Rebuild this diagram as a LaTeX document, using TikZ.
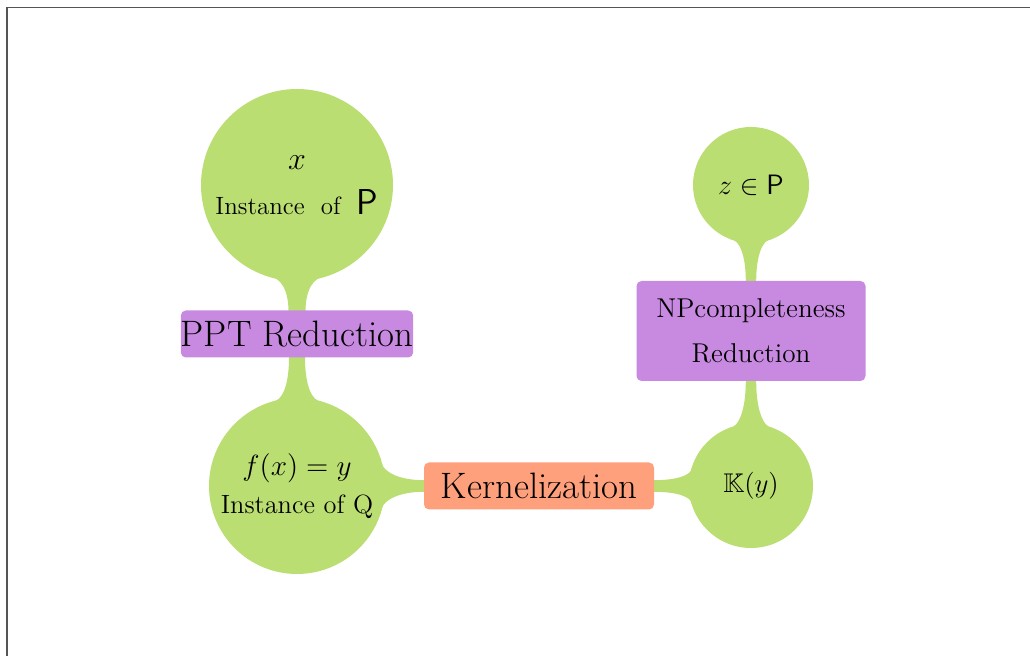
\RequirePackage{fix-cm}
\documentclass[tikz,border=0pt]{standalone}
\usepackage{amssymb}
\usepackage{fontspec}
\usetikzlibrary{calc,backgrounds}

\definecolor{leafgreen}{RGB}{187,222,114}
\definecolor{redpurple}{RGB}{200,138,225}
\definecolor{salmon}{RGB}{255,160,125}
\definecolor{framegray}{RGB}{85,85,85}

\tikzset{
  leaf/.style={fill=leafgreen},
  bud/.style={circle, leaf, inner sep=0pt, align=center, text=black},
  tagbox/.style={rectangle, rounded corners=2.5pt, inner sep=0pt, align=center, text=black},
}

% Tapered stem from a circle node to a box: #1 circle, #2 radius, #3 direction,
% #4 target node, #5 half width at the box, #6 flare angle, #7 gap circle-to-box
\newcommand\budlink[7]{%
  \fill[leaf] (#1.center)
    -- ($(#1.center)+(#3+#6:#2)$)
    .. controls ($(#1.center)+(#3:{#2*cos(#6)})+(#3+90:{#5+0.4*(#2*sin(#6)-#5)})$)
            and ($(#1.center)+(#3:{#2+#7-0.6*(#2+#7-#2*cos(#6))})+(#3+90:#5)$)
    .. ($(#1.center)+(#3:#2+#7)+(#3+90:#5)$)
    -- ($(#4.center)+(#3+90:#5)$)
    -- ($(#4.center)+(#3-90:#5)$)
    -- ($(#1.center)+(#3:#2+#7)+(#3-90:#5)$)
    .. controls ($(#1.center)+(#3:{#2+#7-0.6*(#2+#7-#2*cos(#6))})+(#3-90:#5)$)
            and ($(#1.center)+(#3:{#2*cos(#6)})+(#3-90:{#5+0.4*(#2*sin(#6)-#5)})$)
    .. ($(#1.center)+(#3-#6:#2)$)
    -- cycle;}

\begin{document}
\begin{tikzpicture}[x=0.5pt,y=-0.5pt]
\useasboundingbox (0,0) rectangle (1030,656);
\draw[framegray, line width=0.75pt] (7,656) -- (7,7.5) -- (1030,7.5);

% circles
\node[bud, minimum size=96pt] (inst) at (297,185)
  {\fontsize{16}{18}\selectfont $x$\\[9pt]
   \fontsize{12.5}{15}\selectfont Instance\ \ of\ \ \fontsize{18}{20}\selectfont$\mathsf{P}$};
\node[bud, minimum size=88pt] (img) at (297,486)
  {\fontsize{14.6}{16}\selectfont $f(x)=y$\\[5pt]
   \fontsize{13.2}{16}\selectfont Instance of Q};
\node[bud, minimum size=62pt, font={\fontsize{13.5}{15}\selectfont}] (kern) at (751,486)
  {$\mathbb{K}(y)$};
\node[bud, minimum size=58pt, font={\fontsize{14}{16}\selectfont}] (zp) at (751,185)
  {$z\in\mathsf{P}$};

% boxes
\node[tagbox, fill=redpurple, minimum width=115pt, minimum height=23.5pt,
      font={\fontsize{18.4}{20}\selectfont}] (ppt) at (297,334) {PPT Reduction};
\node[tagbox, fill=salmon, minimum width=115pt, minimum height=23.5pt,
      font={\fontsize{18.4}{20}\selectfont}] (kz) at (539,486) {Kernelization};
\node[tagbox, fill=redpurple, minimum width=114.5pt, minimum height=50pt,
      font={\fontsize{13.6}{22.5}\selectfont}] (np) at (751,331) {NPcompleteness\\ Reduction};

% stems
\begin{pgfonlayer}{background}
  \budlink{inst}{96}{90}{ppt}{8.5}{17}{30}
  \budlink{img}{88}{270}{ppt}{8}{16}{40}
  \budlink{img}{88}{0}{kz}{5.8}{18.5}{39}
  \budlink{kern}{62}{180}{kz}{5.8}{17}{35}
  \budlink{zp}{58}{90}{np}{5.2}{21}{38}
  \budlink{kern}{62}{270}{np}{5.2}{21}{43}
\end{pgfonlayer}
\end{tikzpicture}
\end{document}
